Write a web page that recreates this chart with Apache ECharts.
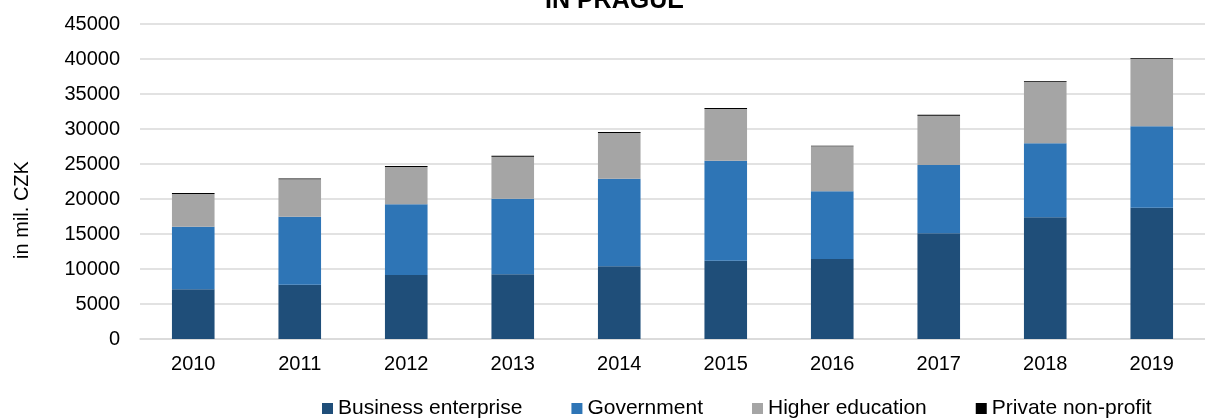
<!DOCTYPE html>
<html>
<head>
<meta charset="utf-8">
<script src="https://cdn.jsdelivr.net/npm/echarts@6/dist/echarts.min.js"></script>
<style>
  html, body { margin: 0; padding: 0; background: #fff; }
  #chart { width: 1205px; height: 419px; }
</style>
</head>
<body>
<div id="chart"></div>
<script>
var years = ['2010', '2011', '2012', '2013', '2014', '2015', '2016', '2017', '2018', '2019'];
var business = [7100, 7760, 9140, 9240, 10380, 11190, 11430, 15100, 17380, 18760];
var government = [8940, 9710, 10100, 10800, 12520, 14280, 9670, 9760, 10570, 11630];
var higherEdu = [4670, 5340, 5330, 6000, 6530, 7390, 6430, 7040, 8810, 9610];
var privateNP = [150, 130, 130, 140, 150, 140, 90, 140, 100, 110];

var font = 'Liberation Sans, Arial, sans-serif';

function barSeries(name, data, color) {
    return {
        name: name,
        type: 'bar',
        stack: 'total',
        barWidth: '40%',
        itemStyle: { color: color },
        data: data
    };
}

var myChart = echarts.init(document.getElementById('chart'));
myChart.setOption({
    backgroundColor: '#ffffff',
    animation: false,
    title: {
        text: 'IN PRAGUE',
        left: 545,
        top: -11,
        padding: 0,
        textStyle: { fontFamily: font, fontSize: 25, fontWeight: 'bold', color: '#000' }
    },
    graphic: [{
        type: 'text',
        x: 22,
        y: 210,
        rotation: Math.PI / 2,
        style: {
            text: 'in mil. CZK',
            font: '20px ' + font,
            fill: '#000',
            align: 'center',
            verticalAlign: 'middle'
        }
    }],
    legend: {
        left: 322,
        top: 398,
        padding: 0,
        icon: 'rect',
        itemWidth: 11,
        itemHeight: 11,
        itemGap: 49,
        textStyle: { fontFamily: font, fontSize: 21, color: '#000' },
        data: ['Business enterprise', 'Government', 'Higher education', 'Private non-profit']
    },
    grid: {
        left: 140,
        top: 24,
        width: 1076,
        height: 315
    },
    xAxis: {
        type: 'category',
        data: years,
        axisTick: { show: false },
        axisLine: { lineStyle: { color: '#d9d9d9', width: 1.5 } },
        axisLabel: { fontFamily: font, fontSize: 20, color: '#000', margin: 15 }
    },
    yAxis: {
        type: 'value',
        min: 0,
        max: 45000,
        interval: 5000,
        axisLine: { show: false },
        axisTick: { show: false },
        axisLabel: {
            fontFamily: font, fontSize: 20, color: '#000', margin: 20,
            formatter: function (v) { return String(v); }
        },
        splitLine: { lineStyle: { color: '#d9d9d9', width: 1.5 } }
    },
    series: [
        barSeries('Business enterprise', business, '#1f4e79'),
        barSeries('Government', government, '#2e75b6'),
        barSeries('Higher education', higherEdu, '#a5a5a5'),
        barSeries('Private non-profit', privateNP, '#000000')
    ]
});
</script>
</body>
</html>
